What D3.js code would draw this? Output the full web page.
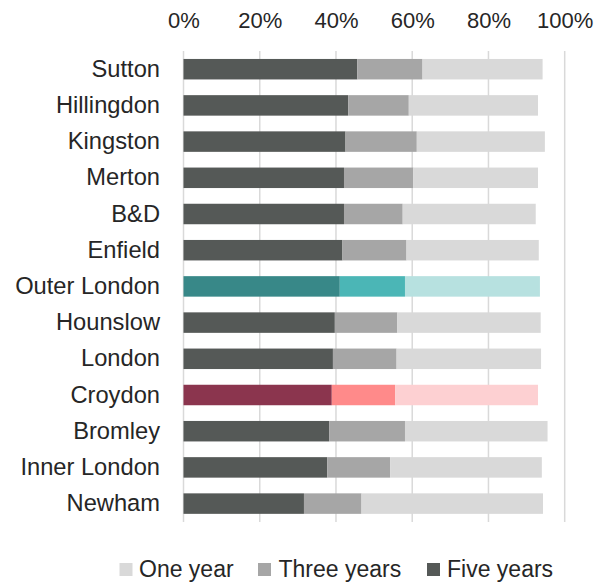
<!DOCTYPE html>
<html>
<head>
<meta charset="utf-8">
<script src="https://cdn.jsdelivr.net/npm/d3@7"></script>
<style>
  html, body { margin: 0; padding: 0; background: #fff; }
  svg text { font-family: "Liberation Sans", Arial, Helvetica, sans-serif; fill: #262626; }
</style>
</head>
<body>
<svg id="chart" width="595" height="582"></svg>
<script>
const categories = ["Sutton", "Hillingdon", "Kingston", "Merton", "B&D", "Enfield", "Outer London", "Hounslow", "London", "Croydon", "Bromley", "Inner London", "Newham"];
const fiveYears  = [45.6, 43.2, 42.5, 42.1, 42.1, 41.7, 41.0, 39.7, 39.2, 38.9, 38.2, 37.7, 31.6];
const threeYears = [17.1, 15.9, 18.7, 18.2, 15.4, 16.8, 17.1, 16.4, 16.7, 16.6, 19.9, 16.5, 15.1];
const oneYear    = [31.5, 33.9, 33.6, 32.7, 34.9, 34.7, 35.4, 37.6, 37.9, 37.5, 37.4, 39.8, 47.6];
const seriesNames = ["Five years", "Three years", "One year"];
const tickValues = [0, 20, 40, 60, 80, 100];

const defaultColors = {"Five years": "#555957", "Three years": "#a6a6a6", "One year": "#d9d9d9"};
const highlightColors = {
  "Outer London": {"Five years": "#388888", "Three years": "#4bb6b6", "One year": "#b7e1e0"},
  "Croydon": {"Five years": "#8b354e", "Three years": "#ff8a8a", "One year": "#fdd0d2"}
};

const svg = d3.select("#chart");
const x = d3.scaleLinear().domain([0, 100]).range([183.5, 564.7]);
const y = d3.scaleBand().domain(categories).range([51.1, 521.7]).paddingInner(0.434).paddingOuter(0.217);

// gridlines
svg.append("g").selectAll("line").data(tickValues).join("line")
  .attr("x1", d => x(d)).attr("x2", d => x(d))
  .attr("y1", 51).attr("y2", 522)
  .attr("stroke", "#d9d9d9").attr("stroke-width", 1.5);

// top axis labels
const axis = d3.axisTop(x).tickValues(tickValues).tickFormat(d => d + "%").tickSize(0).tickPadding(0);
const ag = svg.append("g").attr("transform", "translate(0,28)").call(axis);
ag.select(".domain").remove();
ag.selectAll("text").attr("font-size", 22).attr("dy", 0).attr("fill", "#262626")
  .style("font-family", "'Liberation Sans', Arial, sans-serif");

// stacked data
const rows = categories.map((c, i) => ({cat: c, "Five years": fiveYears[i], "Three years": threeYears[i], "One year": oneYear[i]}));
const stack = d3.stack().keys(seriesNames)(rows);

const colorFor = (cat, key) => (highlightColors[cat] ? highlightColors[cat][key] : defaultColors[key]);

stack.forEach(layer => {
  svg.append("g").selectAll("rect").data(layer).join("rect")
    .attr("x", d => x(d[0]))
    .attr("width", d => x(d[1]) - x(d[0]))
    .attr("y", d => y(d.data.cat))
    .attr("height", y.bandwidth())
    .attr("fill", d => colorFor(d.data.cat, layer.key));
});

// category labels
const yAxis = d3.axisLeft(y).tickSize(0).tickPadding(0);
const yg = svg.append("g").attr("transform", "translate(160,0)").call(yAxis);
yg.select(".domain").remove();
yg.selectAll("text").attr("font-size", 23.7).attr("fill", "#262626")
  .style("font-family", "'Liberation Sans', Arial, sans-serif");

// legend
const legendItems = [
  {name: "One year", sx: 119.5, tx: 139},
  {name: "Three years", sx: 258, tx: 278.5},
  {name: "Five years", sx: 427, tx: 447}
];
const lg = svg.append("g");
legendItems.forEach(it => {
  lg.append("rect").attr("x", it.sx).attr("y", 563).attr("width", 13).attr("height", 13)
    .attr("fill", defaultColors[it.name]);
  lg.append("text").attr("x", it.tx).attr("y", 577).attr("font-size", 23).text(it.name);
});
</script>
</body>
</html>
